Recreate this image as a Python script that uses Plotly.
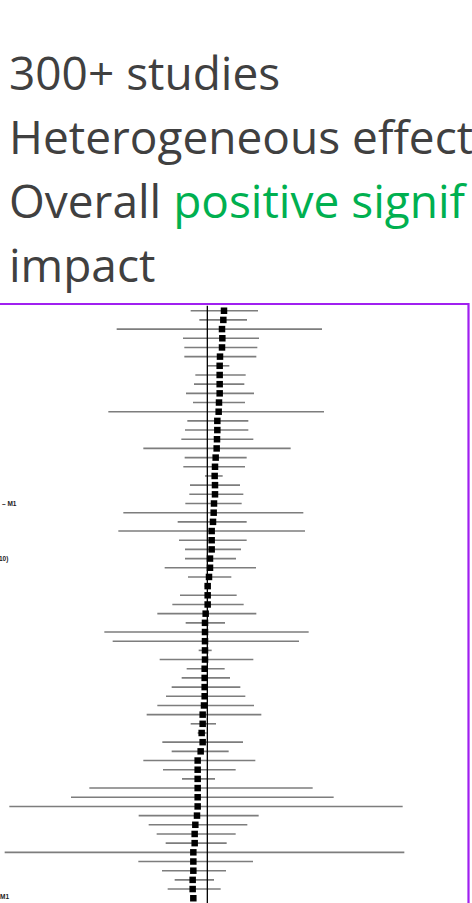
import plotly.graph_objects as go

# Forest plot: study rows (top to bottom), point estimates and confidence limits
study = list(range(1, 66))
estimate = [0.050, 0.048, 0.044, 0.045, 0.044, 0.038, 0.037, 0.037, 0.037, 0.037,
            0.035, 0.034, 0.030, 0.030, 0.029, 0.028, 0.025, 0.023, 0.022, 0.023,
            0.023, 0.020, 0.019, 0.017, 0.013, 0.013, 0.013, 0.008, 0.008, 0.005,
            0.001, 0.001, 0.001, -0.005, -0.007, -0.007, -0.007, -0.007, -0.007, -0.008,
            -0.008, -0.008, -0.008, -0.010, -0.014, -0.014, -0.017, -0.014, -0.020, -0.029,
            -0.029, -0.029, -0.029, -0.029, -0.029, -0.031, -0.036, -0.038, -0.038, -0.042,
            -0.042, -0.042, -0.044, -0.044, -0.042]
ci_low = [-0.050, -0.024, -0.272, -0.073, -0.069, -0.069, 0.001, -0.036, -0.040, -0.064,
          -0.043, -0.297, -0.060, -0.067, -0.078, -0.192, -0.068, -0.072, -0.007, -0.052,
          -0.054, -0.066, -0.252, -0.089, -0.267, -0.085, -0.067, -0.067, -0.128, -0.058,
          -0.008, -0.082, -0.105, -0.150, -0.065, -0.309, -0.284, -0.026, -0.143, -0.062,
          -0.077, -0.107, -0.124, -0.150, -0.182, -0.050, -0.029, -0.135, -0.107, -0.192,
          -0.133, -0.076, -0.354, -0.409, -0.594, -0.206, -0.176, -0.152, -0.125, -0.608,
          -0.207, -0.136, -0.098, -0.119, -0.050]
ci_high = [0.152, 0.119, 0.344, 0.155, 0.150, 0.147, 0.066, 0.115, 0.111, 0.140,
           0.113, 0.350, 0.123, 0.123, 0.138, 0.250, 0.118, 0.113, 0.046, 0.098,
           0.108, 0.103, 0.288, 0.118, 0.293, 0.118, 0.101, 0.086, 0.146, 0.072,
           0.009, 0.088, 0.109, 0.147, 0.053, 0.304, 0.275, 0.013, 0.138, 0.052,
           0.068, 0.099, 0.114, 0.140, 0.162, 0.026, -0.002, 0.107, 0.064, 0.144,
           0.085, 0.023, 0.316, 0.379, 0.586, 0.154, 0.120, 0.085, 0.058, 0.591,
           0.137, 0.056, 0.020, 0.040, -0.034]

title_lines = ["300+ studies", "Heterogeneous effect"]
overall_dark = "Overall "
overall_green = "positive signif"
last_line = "impact"
side_labels = ["– M1", "10)", "M1"]

W, H = 472, 903
TEXT = "#404040"
GREEN = "#00B050"
PURPLE = "#A020F0"
FONT = "Open Sans"

err_plus = [h - e for h, e in zip(ci_high, estimate)]
err_minus = [e - l for e, l in zip(estimate, ci_low)]

fig = go.Figure()
fig.add_trace(go.Scatter(
    x=estimate, y=study, mode="markers",
    marker=dict(symbol="square", size=6.5, color="black", line=dict(width=0)),
    error_x=dict(type="data", symmetric=False, array=err_plus, arrayminus=err_minus,
                 width=0, thickness=1.6, color="#7d7d7d"),
    showlegend=False, hoverinfo="skip",
))

# zero line
fig.add_shape(type="line", xref="x", yref="y", x0=0, x1=0, y0=0.45, y1=67,
              line=dict(color="black", width=1.3), layer="above")

# purple frame
fig.add_shape(type="rect", xref="paper", yref="paper",
              x0=-6 / W, x1=468.5 / W, y0=-0.05, y1=1 - 304 / H,
              line=dict(color=PURPLE, width=2.2), fillcolor="rgba(0,0,0,0)")

def px_x(v):
    return v / W

def px_y(v):
    return 1 - v / H

ann = []
ycent = [72, 136.3, 200, 264]
ann.append(dict(text=title_lines[0], x=px_x(7), y=px_y(ycent[0])))
ann.append(dict(text=title_lines[1], x=px_x(7), y=px_y(ycent[1])))
ann.append(dict(text=f"{overall_dark}<span style='color:{GREEN}'>{overall_green}</span>",
                x=px_x(7), y=px_y(ycent[2])))
ann.append(dict(text=last_line, x=px_x(7), y=px_y(ycent[3])))
annotations = []
for a in ann:
    annotations.append(dict(xref="paper", yref="paper", xanchor="left", yanchor="middle",
                            showarrow=False, align="left",
                            font=dict(family=FONT, size=46, color=TEXT), **a))

for txt, xr, yc in zip(side_labels, [19, 10, 11], [503, 558.5, 896.5]):
    annotations.append(dict(xref="paper", yref="paper", x=px_x(xr), y=px_y(yc),
                            xanchor="right", yanchor="middle", showarrow=False,
                            text=f"<b>{txt}</b>",
                            font=dict(family="Liberation Sans", size=6.5, color="#1a1a1a")))

fig.update_layout(
    width=W, height=H,
    margin=dict(l=0, r=0, t=0, b=0),
    paper_bgcolor="white", plot_bgcolor="white",
    xaxis=dict(range=[-0.622, 0.794], visible=False, showgrid=False, zeroline=False,
               domain=[0, 1]),
    yaxis=dict(range=[65.52, -32.85], visible=False, showgrid=False, zeroline=False,
               domain=[0, 1]),
    annotations=annotations,
)

fig.write_html("out.html", config={"displayModeBar": False, "staticPlot": True},
               post_script="document.body.style.margin='0px';document.body.style.overflow='hidden';")
